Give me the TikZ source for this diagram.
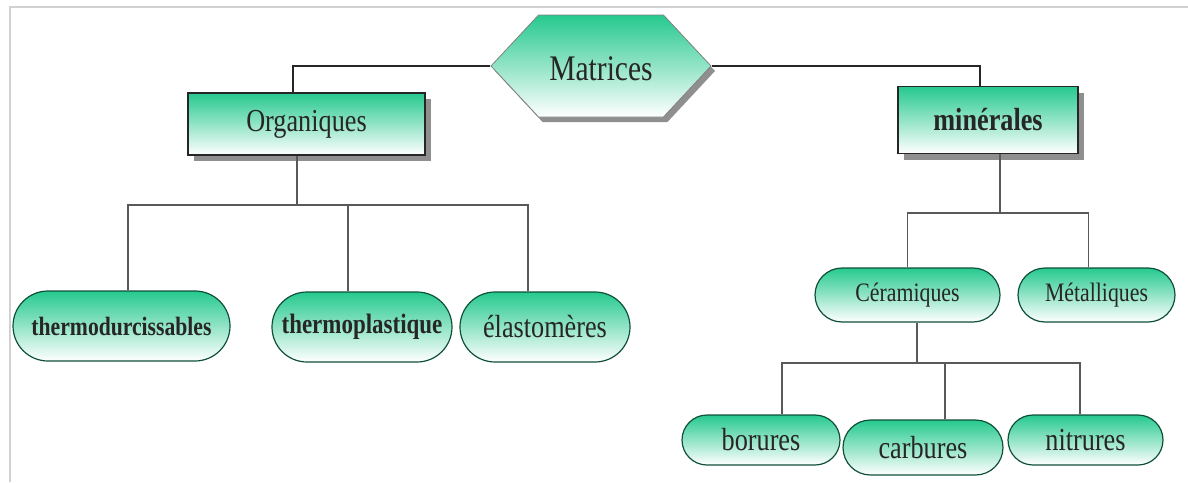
\documentclass[tikz,border=0pt]{standalone}
\usepackage{fontspec}
\usepackage{graphicx}
\setmainfont{Liberation Serif}
\usetikzlibrary{shapes.misc, shapes.symbols, shadows}

\definecolor{mgreen}{RGB}{38,201,143}
\newcommand{\narrowtext}[1]{\scalebox{0.82}[1]{#1}}

\begin{document}
\begin{tikzpicture}[x=0.5pt, y=-0.5pt,
    every node/.style={inner sep=0pt, text=black!85},
    box/.style={rectangle, draw=black!85, line width=0.6pt,
        top color=mgreen, middle color=mgreen!18, bottom color=white,
        drop shadow={shadow xshift=3pt, shadow yshift=-3pt, fill=black!55, opacity=0.8}},
    pill/.style={rounded rectangle, draw=black!60!mgreen, line width=0.6pt,
        top color=mgreen, middle color=mgreen!15, bottom color=white},
    hexa/.style={signal, signal to=east and west, signal pointer angle=94,
        draw=black!50, line width=0.4pt,
        top color=mgreen, middle color=mgreen!25, bottom color=white,
        drop shadow={shadow xshift=2pt, shadow yshift=-2.5pt, fill=black!55, opacity=0.8}},
    trunk/.style={line width=1pt, black!85},
    branch/.style={line width=0.7pt, black!65}
]
\useasboundingbox (0,0) rectangle (1188,482);

% frame
\draw[black!18, line width=1.2pt] (10,482) -- (10,7) -- (1188,7);

% (1) top
\node[hexa, minimum width=110pt, minimum height=51pt] (mat) at (601,66) {};
\node[font=\fontsize{18}{18}\selectfont] (matT) at (601,69) {\narrowtext{Matrices}};

\node[box, minimum width=118.5pt, minimum height=31pt, font=\fontsize{16}{16}\selectfont] (org) at (306.5,124) {\narrowtext{Organiques}};
\node[box, minimum width=90pt, minimum height=33.5pt, font=\fontsize{16}{16}\selectfont\bfseries] (min) at (988,120) {\narrowtext{minérales}};

\draw[trunk] (mat.west) -| ([xshift=-7pt]org.north);
\draw[trunk] (mat.east) -| ([xshift=-4pt]min.north);

% (2) organiques
\node[pill, minimum width=108.5pt, minimum height=35pt, font=\fontsize{13.2}{13.2}\selectfont\bfseries] (thd) at (121.5,326) {\narrowtext{thermodurcissables}};
\node[pill, minimum width=90pt, minimum height=35pt, font=\fontsize{14}{14}\selectfont\bfseries] (thp) at (362,327) {\narrowtext{thermoplastique}};
\node[pill, minimum width=85pt, minimum height=35pt, font=\fontsize{16}{16}\selectfont] (ela) at (545,327) {\narrowtext{élastomères}};

\coordinate (jo) at (297,205);
\draw[branch] (org.south -| jo) -- (jo);
\draw[branch] ([xshift=3.25pt]thd.north) |- (jo);
\draw[branch] ([xshift=-7pt]thp.north) |- (jo);
\draw[branch] ([xshift=-8.5pt]ela.north) |- (jo);

% (3) minerales
\node[pill, minimum width=92.5pt, minimum height=27pt, font=\fontsize{13.3}{13.3}\selectfont] (cer) at (907.5,295) {\narrowtext{Céramiques}};
\node[pill, minimum width=78.5pt, minimum height=27pt, font=\fontsize{13.3}{13.3}\selectfont] (met) at (1096.5,295) {\narrowtext{Métalliques}};

\coordinate (jm) at (1000,213);
\draw[branch] (min.south -| jm) -- (jm);
\draw[branch] (cer.north) |- (jm);
\draw[branch] ([xshift=-4pt]met.north) |- (jm);

% (4) ceramiques
\node[pill, minimum width=79pt, minimum height=25pt, font=\fontsize{16}{16}\selectfont] (bor) at (761,440) {\narrowtext{borures}};
\node[pill, minimum width=80pt, minimum height=27.5pt, font=\fontsize{16}{16}\selectfont] (car) at (923,447.5) {\narrowtext{carbures}};
\node[pill, minimum width=77.5pt, minimum height=25pt, font=\fontsize{16}{16}\selectfont] (nit) at (1085.5,440) {\narrowtext{nitrures}};

\coordinate (jc) at (917,363);
\draw[branch] (cer.south -| jc) -- (jc);
\draw[branch] ([xshift=10.5pt]bor.north) |- (jc);
\draw[branch] ([xshift=11pt]car.north) |- (jc);
\draw[branch] ([xshift=-2.75pt]nit.north) |- (jc);

\end{tikzpicture}
\end{document}
